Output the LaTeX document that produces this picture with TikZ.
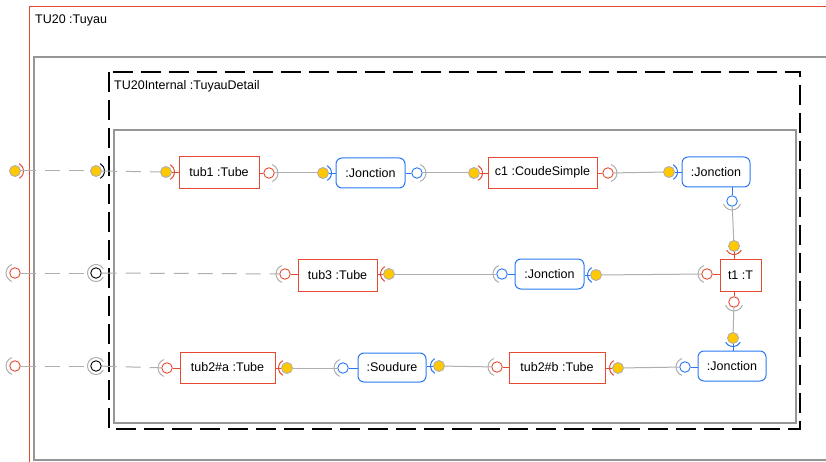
\documentclass[tikz,border=0pt]{standalone}
\usepackage{fontspec}
\setmainfont{Liberation Sans}
\definecolor{ured}{RGB}{230,75,50}
\definecolor{ublue}{RGB}{40,120,245}
\definecolor{uyel}{RGB}{255,200,0}
\definecolor{ugray}{RGB}{175,175,175}
\definecolor{fgray}{RGB}{150,150,150}
\tikzset{
  redbox/.style={draw=ured, line width=0.9pt, minimum height=32pt, inner sep=0pt},
  bluebox/.style={draw=ublue, line width=1pt, rounded corners=6pt, minimum height=30pt, inner sep=0pt},
  yp/.style={circle, fill=uyel, draw=ugray, line width=0.9pt, minimum size=11pt, inner sep=0pt},
  op/.style={circle, fill=white, line width=0.9pt, minimum size=10.5pt, inner sep=0pt},
  conn/.style={draw=ugray, line width=1pt},
  ext/.style={conn, dash pattern=on 15pt off 9pt},
  arcw/.style={line width=1pt},
  stub/.style={line width=0.9pt}
}
% yellow (provided) port: name, x, y, arc colour, angle toward box
\newcommand\yport[5]{%
  \node[yp] (#1) at (#2,#3) {};
  \draw[#4, arcw] ([shift={(#5-60:8.5pt)}]#1.center) arc[start angle=#5-60, end angle=#5+60, radius=8.5pt];
}
% open (required) port: name, x, y, circle colour, angle away from box
\newcommand\oport[5]{%
  \node[op, draw=#4] (#1) at (#2,#3) {};
  \draw[ugray, arcw] ([shift={(#5-70:9pt)}]#1.center) arc[start angle=#5-70, end angle=#5+70, radius=9pt];
}
\begin{document}
\begin{tikzpicture}[x=1pt, y=-1pt, font=\fontsize{12.5}{15}\selectfont]
\clip (0,0) rectangle (826,462);
\fill[white] (0,0) rectangle (826,462);
% frames
\draw[ured, line width=1pt] (29,7) rectangle (840,480);
\draw[fgray, line width=1.1pt] (34,57) rectangle (840,460);
\draw[black, line width=2.8pt, dash pattern=on 20pt off 8pt] (109,72) rectangle (800,429);
\draw[fgray, line width=1.1pt] (114,130) rectangle (796,423);
\node[anchor=west, inner sep=0pt] (lblA) at (35,20) {TU20 :Tuyau};
\node[anchor=west, inner sep=0pt] (lblB) at (114,86) {TU20Internal :TuyauDetail};

% parts
\node[redbox, minimum width=80pt] (tubA) at (219,172) {tub1 :Tube};
\node[bluebox, minimum width=69pt] (jA) at (370.5,173) {:Jonction};
\node[redbox, minimum width=109pt, minimum height=31pt] (cA) at (542.5,172.5) {c1 :CoudeSimple};
\node[bluebox, minimum width=68pt] (jB) at (716,172) {:Jonction};
\node[redbox, minimum width=41pt] (tT) at (740.5,275) {t1 :T};
\node[redbox, minimum width=79pt] (tubC) at (337.5,275) {tub3 :Tube};
\node[bluebox, minimum width=69pt] (jC) at (549.5,274) {:Jonction};
\node[bluebox, minimum width=68pt] (jD) at (732,366) {:Jonction};
\node[redbox, minimum width=96pt, minimum height=31pt] (tubBb) at (557,367.5) {tub2\#b :Tube};
\node[bluebox, minimum width=68pt, minimum height=29pt] (soud) at (392,367.5) {:Soudure};
\node[redbox, minimum width=95pt, minimum height=31pt] (tubBa) at (227.5,367.5) {tub2\#a :Tube};

% outer ports
\yport{lA}{15}{171}{ured}{0}
\yport{mA}{96}{171}{black}{0}
\node[op, draw=ured] (lB) at (15,273) {};
\draw[ugray, arcw] ([shift={(110:9pt)}]lB.center) arc[start angle=110, end angle=250, radius=9pt];
\node[op, draw=black] (mB) at (96,273) {};
\draw[ugray, arcw] ([shift={(30:8.5pt)}]mB.center) arc[start angle=30, end angle=330, radius=8.5pt];
\node[op, draw=ured] (lC) at (15,366) {};
\draw[ugray, arcw] ([shift={(110:9pt)}]lC.center) arc[start angle=110, end angle=250, radius=9pt];
\node[op, draw=black] (mC) at (96,366) {};
\draw[ugray, arcw] ([shift={(30:8.5pt)}]mC.center) arc[start angle=30, end angle=330, radius=8.5pt];

% part ports
\yport{tubAin}{166}{172}{ured}{0}
\oport{tubAout}{269}{173}{ured}{0}
\yport{jAin}{323}{173}{ublue}{0}
\oport{jAout}{417}{173}{ublue}{0}
\yport{cAin}{474}{173}{ured}{0}
\oport{cAout}{608}{173}{ured}{0}
\yport{jBin}{669}{172}{ublue}{0}
\oport{jBout}{732}{201}{ublue}{270}
\yport{tTtop}{734}{246}{ured}{270}
\oport{tTleft}{707}{274}{ured}{180}
\oport{tTbot}{734}{302}{ured}{270}
\yport{jDtop}{733}{338}{ublue}{270}
\oport{jDleft}{685}{367}{ublue}{180}
\yport{tubBbout}{618}{368}{ured}{180}
\oport{tubBbin}{497}{367}{ured}{180}
\yport{soudout}{439}{366}{ublue}{180}
\oport{soudin}{343}{368}{ublue}{180}
\yport{tubBaout}{287}{368}{ured}{180}
\oport{tubBain}{167}{368}{ured}{180}
\oport{tubCin}{285}{274}{ured}{180}
\yport{tubCout}{389}{274}{ured}{180}
\oport{jCin}{502}{274}{ublue}{180}
\yport{jCout}{596}{275}{ublue}{180}

% stubs
\draw[ured, stub] (tubAin) -- (tubAin -| tubA.west);
\draw[ured, stub] (tubAout) -- (tubAout -| tubA.east);
\draw[ublue, stub] (jAin) -- (jAin -| jA.west);
\draw[ublue, stub] (jAout) -- (jAout -| jA.east);
\draw[ured, stub] (cAin) -- (cAin -| cA.west);
\draw[ured, stub] (cAout) -- (cAout -| cA.east);
\draw[ublue, stub] (jBin) -- (jBin -| jB.west);
\draw[ublue, stub] (jBout) -- (jBout |- jB.south);
\draw[ured, stub] (tTtop) -- (tTtop |- tT.north);
\draw[ured, stub] (tTleft) -- (tTleft -| tT.west);
\draw[ured, stub] (tTbot) -- (tTbot |- tT.south);
\draw[ublue, stub] (jDtop) -- (jDtop |- jD.north);
\draw[ublue, stub] (jDleft) -- (jDleft -| jD.west);
\draw[ured, stub] (tubBbout) -- (tubBbout -| tubBb.east);
\draw[ured, stub] (tubBbin) -- (tubBbin -| tubBb.west);
\draw[ublue, stub] (soudout) -- (soudout -| soud.east);
\draw[ublue, stub] (soudin) -- (soudin -| soud.west);
\draw[ured, stub] (tubBaout) -- (tubBaout -| tubBa.east);
\draw[ured, stub] (tubBain) -- (tubBain -| tubBa.west);
\draw[ured, stub] (tubCin) -- (tubCin -| tubC.west);
\draw[ured, stub] (tubCout) -- (tubCout -| tubC.east);
\draw[ublue, stub] (jCin) -- (jCin -| jC.west);
\draw[ublue, stub] (jCout) -- (jCout -| jC.east);

% external (delegation) connectors
\draw[ext] (lA) -- (mA);
\draw[ext] (mA) -- (tubAin);
\draw[ext] (lB) -- (mB);
\draw[ext] (mB) -- (tubCin);
\draw[ext] (lC) -- (mC);
\draw[ext] (mC) -- (tubBain);

% internal connectors
\draw[conn] (tubAout) -- (jAin);
\draw[conn] (jAout) -- (cAin);
\draw[conn] (cAout) -- (jBin);
\draw[conn] (jBout) -- (tTtop);
\draw[conn] (tTbot) -- (jDtop);
\draw[conn] (jDleft) -- (tubBbout);
\draw[conn] (tubBbin) -- (soudout);
\draw[conn] (soudin) -- (tubBaout);
\draw[conn] (tTleft) -- (jCout);
\draw[conn] (jCin) -- (tubCout);
\end{tikzpicture}
\end{document}
